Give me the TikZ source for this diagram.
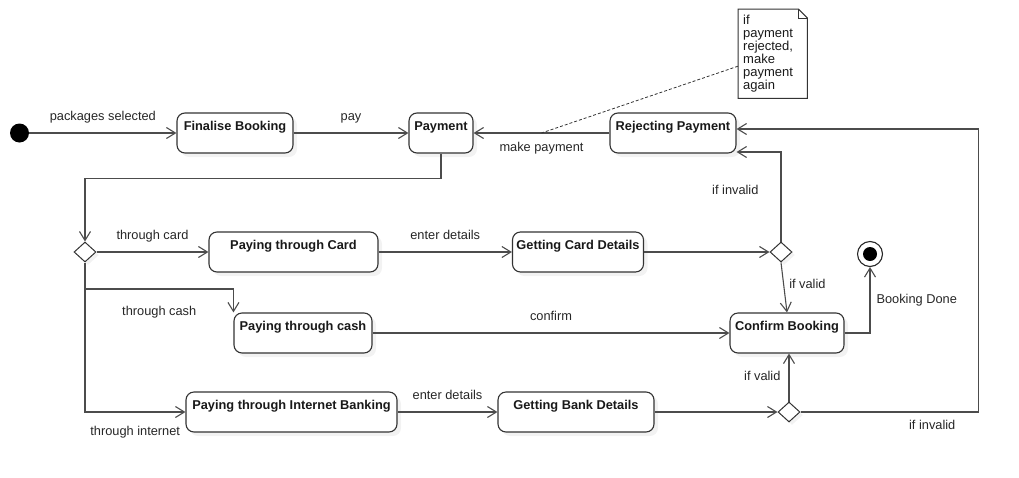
\documentclass[tikz,border=0pt]{standalone}
\usepackage{fontspec}
\setmainfont{Liberation Sans}
\usetikzlibrary{arrows.meta,shapes.geometric,shadows}
\tikzset{
  state/.style={draw=black!80, fill=white, rounded corners=8pt, line width=1.1pt, text=black!90,
    font=\fontsize{12.8}{14}\selectfont\bfseries, inner xsep=4pt, inner ysep=3pt,
    text height=14pt, text depth=20pt,
    drop shadow={opacity=0.10, shadow xshift=4pt, shadow yshift=-4pt}},
  branch/.style={diamond, draw=black!80, fill=white, line width=1pt, minimum width=22pt,
    minimum height=20pt, inner sep=0pt,
    drop shadow={opacity=0.10, shadow xshift=3pt, shadow yshift=-3pt}},
  startdot/.style={circle, fill=black, minimum size=19pt, inner sep=0pt},
  enddot/.style={circle, draw=black!85, fill=white, line width=1.1pt, minimum size=25pt, inner sep=0pt,
    path picture={\fill[black] (path picture bounding box.center) circle (7pt);}},
  flow/.style={draw=black!70, line width=1.1pt, -{Straight Barb[length=9pt,width=11pt]}},
  guard/.style={font=\fontsize{12.8}{14}\selectfont, text=black!85, inner sep=2pt,
    text height=9.5pt, text depth=3pt},
  memo/.style={font=\fontsize{13}{13}\selectfont, text=black!90, align=left, inner xsep=5pt,
    inner ysep=0pt, text width=59pt, minimum height=89pt},
  memoline/.style={draw=black!80, line width=1pt},
}
\begin{document}
\begin{tikzpicture}[x=1pt,y=-1pt]
  \useasboundingbox (0,0) rectangle (1019,477);

  \node[startdot] (init) at (19.5,133) {};
  \node[state, minimum width=116pt] (fin) at (235,133) {Finalise Booking};
  \node[state, minimum width=64pt] (pay) at (441,133) {Payment};
  \node[state, minimum width=126pt] (rej) at (673,133) {Rejecting Payment};
  \node[memo, anchor=north west] (note) at (738,9) {if\\payment\\rejected,\\make\\payment\\again};

  \node[branch] (d1) at (85,252) {};
  \node[state, minimum width=169pt] (card) at (293.5,252) {Paying through Card};
  \node[state, minimum width=130pt] (gcard) at (578,252) {Getting Card Details};
  \node[branch] (d2) at (781,252) {};
  \node[enddot] (end) at (870,254) {};

  \node[state, minimum width=138pt] (cash) at (303,333) {Paying through cash};
  \node[state, minimum width=114pt] (conf) at (787,333) {Confirm Booking};

  \node[state, minimum width=211pt] (net) at (291.5,412) {Paying through Internet Banking};
  \node[state, minimum width=156pt] (gbank) at (576,412) {Getting Bank Details};
  \node[branch] (d3) at (789,412) {};

  \draw[memoline] (note.north west) -- ([xshift=-9pt]note.north east) -- ([yshift=-9pt]note.north east) -- (note.south east) -- (note.south west) -- cycle;
  \draw[memoline] ([xshift=-9pt]note.north east) -- ([xshift=-9pt,yshift=-9pt]note.north east) -- ([yshift=-9pt]note.north east);

  \draw[flow] (init) -- (fin) node[guard, midway, above=7pt] {packages selected};
  \draw[flow] (fin) -- (pay) node[guard, midway, above=7pt] {pay};
  \draw[flow] (pay.south) -- ++(0,25) -| (d1.north);
  \draw[flow] (rej) -- (pay) coordinate[midway] (mk) node[guard, midway, below=6.5pt] {make payment};
  \draw[black!80, line width=0.8pt, dash pattern=on 3pt off 2pt] ([yshift=-12.5pt]note.west) -- (mk);

  \draw[flow] (d1) -- (card) node[guard, midway, above=7pt] {through card};
  \draw[flow] (card) -- (gcard) node[guard, midway, above=7pt] {enter details};
  \draw[flow] (gcard) -- (d2);
  \draw[flow] (d2.north) |- ([yshift=-19pt]rej.east) node[guard, pos=0.28, left=20pt] {if invalid};
  \draw[flow] (d2.south) -- (conf.north) node[guard, pos=0.45, right=3pt] {if valid};

  \coordinate (cashsplit) at (d1.south |- 0,289);
  \draw[flow] (cashsplit) -| (cash.north west) node[guard, pos=0.25, below=14.5pt] {through cash};
  \draw[flow] (cash) -- (conf) node[guard, midway, above=7pt] {confirm};
  \draw[flow] (conf.east) -| (end.south) node[guard, pos=0.75, right=4pt] {Booking Done};

  \draw[flow] (d1.south) |- (net.west) node[guard, pos=0.75, below=11.5pt] {through internet};
  \draw[flow] (net) -- (gbank) node[guard, midway, above=7pt] {enter details};
  \draw[flow] (gbank) -- (d3);
  \draw[flow] (d3.north) -- (d3.north |- conf.south) node[guard, midway, left=6pt] {if valid};
  \draw[flow] (d3.east) -- ++(178,0) node[guard, pos=0.74, below=5.5pt] {if invalid} |- ([yshift=4pt]rej.east);
\end{tikzpicture}
\end{document}
